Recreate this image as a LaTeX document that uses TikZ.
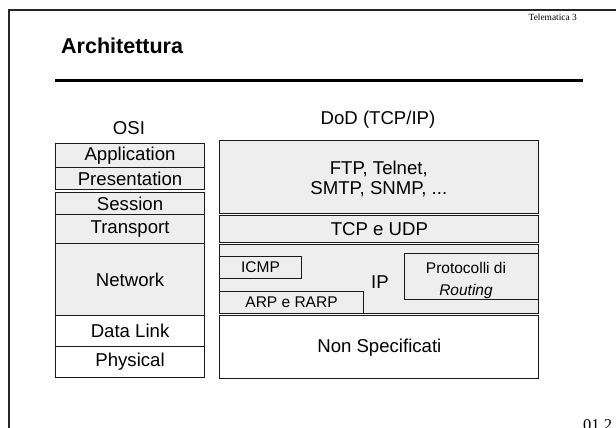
\documentclass[tikz,border=0pt]{standalone}
\usepackage{fontspec}
\setmainfont{Liberation Sans}
\newfontfamily\pageserif{Liberation Serif}
\definecolor{boxgray}{HTML}{EEEEEE}

\begin{document}
\begin{tikzpicture}[x=1pt, y=-1pt,
  layer/.style={draw=black!90, line width=1.1pt, fill=boxgray, inner sep=0pt,
    anchor=north west, align=center, font=\fontsize{18.6}{20.5}\selectfont},
  plain/.style={layer, fill=white},
  sub/.style={layer, font=\fontsize{15.5}{22}\selectfont},
  heading/.style={inner sep=0pt, font=\fontsize{18.6}{20.5}\selectfont},
  bigline/.style={inner sep=0pt, anchor=base, font=\fontsize{18.6}{20.5}\selectfont},
  smallline/.style={inner sep=0pt, anchor=base, font=\fontsize{15.5}{22}\selectfont}
]
\useasboundingbox (0,0) rectangle (616,428);

% slide frame and header
\draw[line width=1.2pt, black!85] (9,428) -- (9,10) -- (616,10);
\node[anchor=base east, inner sep=0pt, font=\pageserif\fontsize{9.4}{11}\selectfont]
  (course) at (577,20.5) {Telematica 3};
\node[anchor=base west, inner sep=0pt, font=\bfseries\fontsize{21.5}{24}\selectfont]
  (title) at (61,54) {Architettura};
\draw[line width=3pt] (55,81) -- (583,81);
\node[anchor=base west, inner sep=0pt, font=\pageserif\fontsize{16.5}{18}\selectfont]
  (pagenum) at (583,430) {01.2};

% OSI stack
\node[heading] (osi) at (129,128) {OSI};
\node[layer, minimum width=149pt, minimum height=24pt]   (app)   at (55,142.7) {Application};
\node[layer, minimum width=149pt, minimum height=22.6pt] (pres)  at (55,166.7) {Presentation};
\node[layer, minimum width=149pt, minimum height=22.6pt] (sess)  at (55,191.7) {Session};
\node[layer, minimum width=149pt, minimum height=29pt]   (trans) at (55,214.3) {Transport};
\node[layer, minimum width=149pt, minimum height=71.7pt] (net)   at (55,243.3) {Network};
\node[plain, minimum width=149pt, minimum height=31pt]   (dl)    at (55,315)   {Data Link};
\node[plain, minimum width=149pt, minimum height=30.5pt] (phys)  at (55,346)   {Physical};

% DoD (TCP/IP) stack
\node[heading] (dod) at (378,120) {DoD (TCP/IP)};
\node[layer, minimum width=319pt, minimum height=72.7pt] (apps) at (219.3,140) {};
\node[bigline] (apps1) at (378.8,174.8) {FTP, Telnet,};
\node[bigline] (apps2) at (378.8,194.8) {SMTP, SNMP, ...};
\node[layer, minimum width=319pt, minimum height=26.7pt] (tcp)  at (219.3,215) {TCP e UDP};
\node[layer, minimum width=319pt, minimum height=68.7pt] (ip)   at (219.3,244) {};
\node[plain, minimum width=319pt, minimum height=63.3pt] (none) at (219.3,315) {Non Specificati};

% protocols inside the IP layer
\node[sub, minimum width=81.4pt, minimum height=22pt]    (icmp)    at (219.3,255.7) {ICMP};
\node[sub, minimum width=143.4pt, minimum height=21.7pt] (arp)     at (219.3,291)   {ARP e RARP};
\node[sub, minimum width=134pt, minimum height=46.6pt]   (routing) at (404.3,252.7) {};
\node[smallline] (routing1) at (466,273.5) {Protocolli di};
\node[smallline] (routing2) at (466,295) {\textit{Routing}};
\node[heading] (iplabel) at (380,281.7) {IP};
\end{tikzpicture}
\end{document}
